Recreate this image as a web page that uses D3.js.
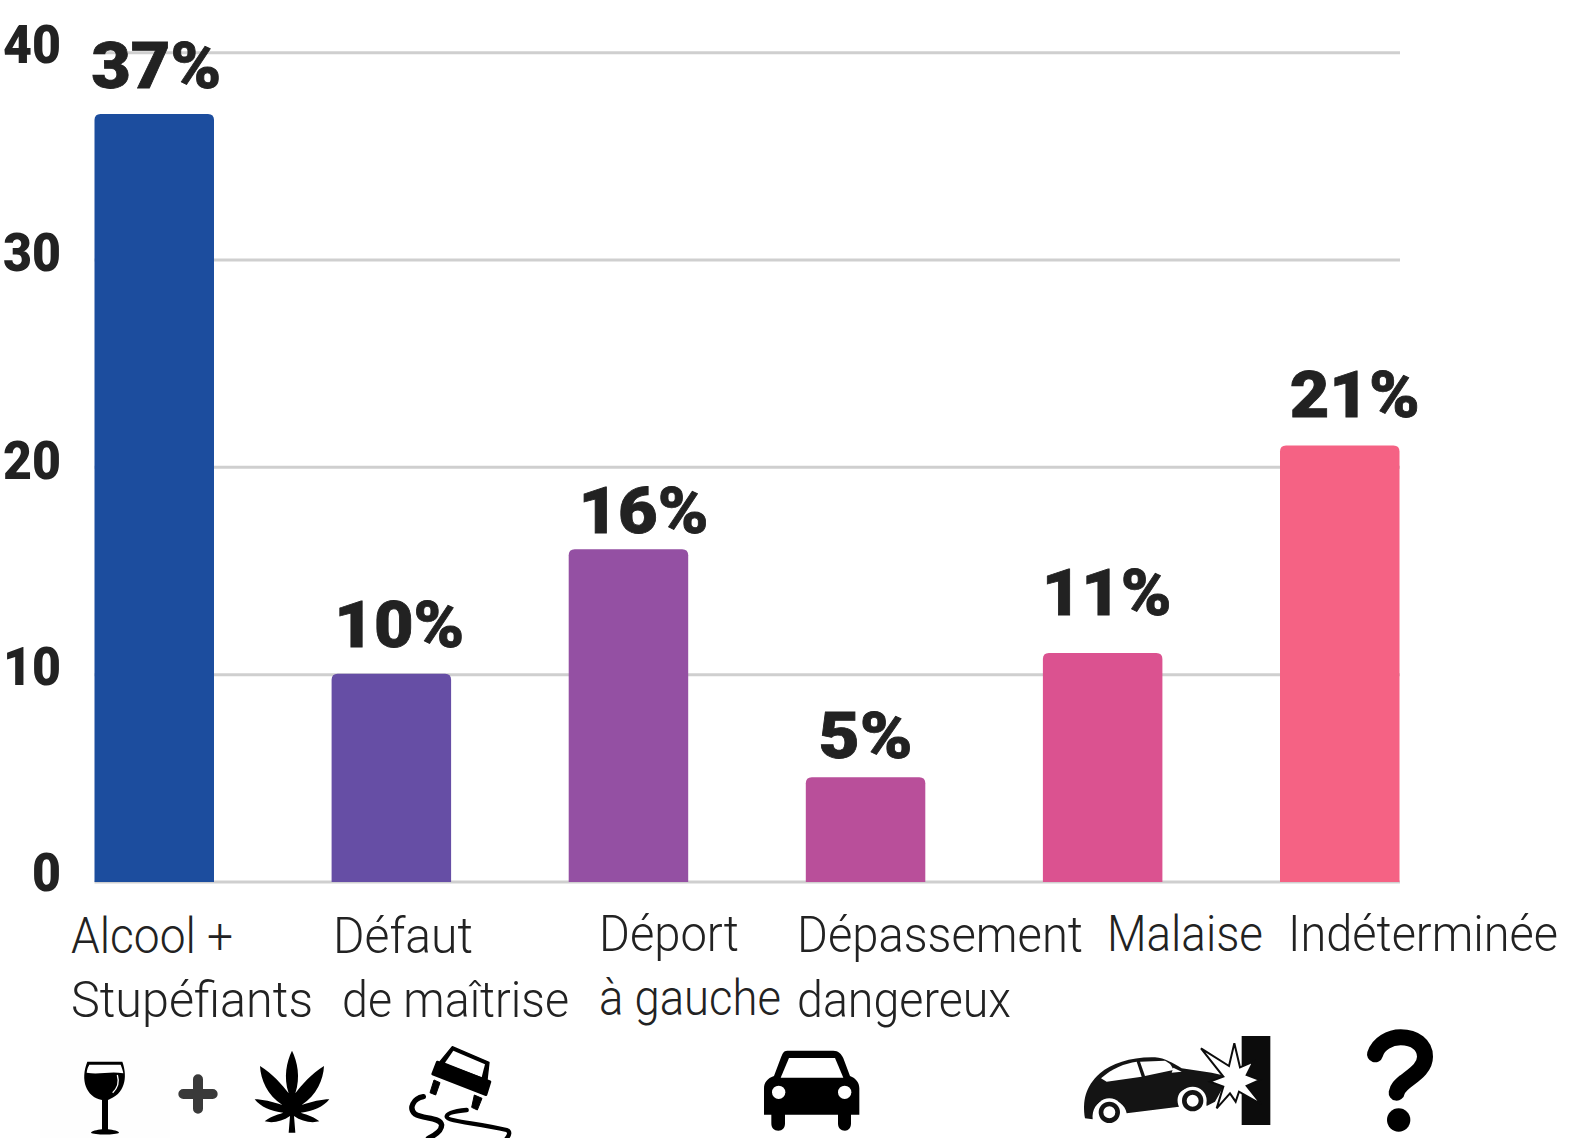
<!DOCTYPE html>
<html>
<head>
<meta charset="utf-8">
<script src="https://cdn.jsdelivr.net/npm/d3@7"></script>
<style>
  html, body { margin: 0; padding: 0; background: #fff; }
  svg { display: block; }
  text { font-family: Roboto, sans-serif; fill: #222; }
</style>
</head>
<body>
<div id="chart"></div>
<script>
var categories = ["Alcool + Stupéfiants", "Défaut de maîtrise", "Déport à gauche", "Dépassement dangereux", "Malaise", "Indéterminée"];
var values = [37, 10, 16, 5, 11, 21];
var yTicks = [0, 10, 20, 30, 40];
var barColors = ["#1c4d9e", "#664ea5", "#9450a3", "#b94f9a", "#db5290", "#f56284"];

var labelLines = [
  ["Alcool +", "Stupéfiants"],
  ["Défaut", "de maîtrise"],
  ["Déport", "à gauche"],
  ["Dépassement", "dangereux"],
  ["Malaise"],
  ["Indéterminée"]
];

// hand placed, the source picture did not line these up with the bars
var labelLayout = [
  [{x: 71, y: 953, w: 162}, {x: 71, y: 1017, w: 242}],
  [{x: 333, y: 953, w: 140}, {x: 342, y: 1017, w: 227}],
  [{x: 599, y: 951, w: 140}, {x: 599, y: 1015, w: 182}],
  [{x: 797, y: 952, w: 286}, {x: 797, y: 1017, w: 214}],
  [{x: 1107, y: 951, w: 156}],
  [{x: 1288, y: 951, w: 270}]
];
var valueLayout = [
  {dx: 2, baseline: 88}, {dx: 8, baseline: 647}, {dx: 15, baseline: 533},
  {dx: 0, baseline: 758}, {dx: 4, baseline: 615}, {dx: 15, baseline: 417}
];

var width = 1595, height = 1138;

var svg = d3.select("#chart")
  .append("svg")
  .attr("width", width)
  .attr("height", height);

var x = d3.scaleBand()
  .domain(categories)
  .range([94.5, 1399.5])
  .paddingInner(0.496)
  .paddingOuter(0);

var y = d3.scaleLinear()
  .domain([0, 40])
  .range([882, 52.7]);

// gridlines
svg.append("g")
  .selectAll("line")
  .data(yTicks)
  .enter().append("line")
    .attr("x1", 94.5)
    .attr("x2", 1400)
    .attr("y1", function(d) { return y(d); })
    .attr("y2", function(d) { return y(d); })
    .style("stroke", "#cfcfcf")
    .style("stroke-width", 3);

// y axis numbers
var yAxis = svg.append("g")
  .attr("transform", "translate(61,0)")
  .call(d3.axisLeft(y).tickValues(yTicks).tickSize(0).tickPadding(0));
yAxis.select(".domain").remove();
yAxis.selectAll("text")
  .attr("dy", null)
  .attr("y", function(d) { return d === 0 ? 8 : (d === 20 ? 11 : 10); })
  .style("font-family", "Roboto, sans-serif")
  .style("font-size", "53px")
  .style("font-weight", 900)
  .style("fill", "#222")
  .attr("textLength", function(d) { return d === 0 ? 29 : 58; })
  .attr("lengthAdjust", "spacingAndGlyphs");

function barPath(d, i) {
  var r = 6, x0 = x(categories[i]), x1 = x0 + x.bandwidth(), top = y(d) - 1, base = y(0);
  return "M" + x0 + "," + base + "V" + (top + r) + "Q" + x0 + "," + top + " " + (x0 + r) + "," + top +
    "H" + (x1 - r) + "Q" + x1 + "," + top + " " + x1 + "," + (top + r) + "V" + base + "Z";
}

svg.append("g")
  .selectAll("path")
  .data(values)
  .enter().append("path")
    .attr("d", barPath)
    .attr("fill", function(d, i) { return barColors[i]; });

// value labels
svg.append("g")
  .selectAll("text")
  .data(values)
  .enter().append("text")
    .attr("x", function(d, i) { return x(categories[i]) + x.bandwidth() / 2 + valueLayout[i].dx; })
    .attr("y", function(d, i) { return valueLayout[i].baseline; })
    .attr("text-anchor", "middle")
    .style("font-size", "65px")
    .style("font-weight", 900)
    .style("stroke", "#222")
    .style("stroke-width", 0.8)
    .attr("textLength", function(d) { return d < 10 ? 94 : 130; })
    .attr("lengthAdjust", "spacingAndGlyphs")
    .text(function(d) { return d + "%"; });

// category labels
labelLines.forEach(function(lines, i) {
  lines.forEach(function(line, j) {
    var pos = labelLayout[i][j];
    svg.append("text")
      .attr("x", pos.x)
      .attr("y", pos.y)
      .attr("textLength", pos.w)
      .attr("lengthAdjust", "spacingAndGlyphs")
      .style("font-size", "50px")
      .style("font-weight", 300)
      .text(line);
  });
});

// icons, traced at 3x from the picture
function icon(px, py) {
  return svg.append("g").attr("transform", "translate(" + px + "," + py + ") scale(" + (1 / 3) + ")");
}

svg.append("rect").attr("x", 40).attr("y", 1030).attr("width", 130).attr("height", 108).attr("fill", "#fefefe");

var glass = icon(60, 1030);
glass.append("path")
  .attr("d", "M82 95H187C200 130 202 185 150 207L144 210V298C160 300 176 303 177 308C170 315 100 315 93 308C95 303 110 300 126 298V210C78 200 60 150 82 95Z");
glass.append("path")
  .attr("d", "M88 104H182C186 115 189 122 190 130C150 122 120 135 80 128C81 118 84 110 88 104Z")
  .attr("fill", "#fff");
glass.append("path")
  .attr("d", "M172 135C178 155 172 175 158 188")
  .attr("fill", "none").attr("stroke", "#fff").attr("stroke-width", 4);
glass.append("path")
  .attr("d", "M414 148V236M370 192H458")
  .attr("fill", "none").attr("stroke", "#3a3a3a").attr("stroke-width", 30).attr("stroke-linecap", "round");
glass.append("path")
  .attr("d", "M696 62C712 95 722 140 706 190C725 165 755 130 792 108C790 150 770 195 725 225C755 215 785 208 808 208C790 230 760 245 722 248C745 255 765 262 778 274C755 280 725 275 702 258L706 308H686L690 258C667 275 637 280 614 274C627 262 647 255 670 248C632 245 602 230 584 208C607 208 637 215 667 225C622 195 602 150 600 108C637 130 667 165 686 190C670 140 680 95 696 62Z");

var skid = icon(390, 1030);
skid.append("path")
  .attr("d", "M187 50L297 97L291 150L150 95Z")
  .attr("stroke", "#000").attr("stroke-width", 4).attr("stroke-linejoin", "round");
skid.append("path")
  .attr("d", "M190 62L285 103L275 142L165 98Z")
  .attr("fill", "#fff");
skid.append("path")
  .attr("d", "M142 96L300 155L288 194L128 132Z")
  .attr("stroke", "#000").attr("stroke-width", 8).attr("stroke-linejoin", "round");
skid.append("path").attr("d", "M132 150L150 158L137 195L120 188Z")
  .attr("stroke", "#000").attr("stroke-width", 3).attr("stroke-linejoin", "round");
skid.append("path").attr("d", "M253 195L276 205L262 240L245 232Z")
  .attr("stroke", "#000").attr("stroke-width", 3).attr("stroke-linejoin", "round");
skid.append("path")
  .attr("d", "M100 200C70 205 55 235 75 252C100 268 150 260 155 285C155 305 130 318 115 325")
  .attr("fill", "none").attr("stroke", "#000").attr("stroke-width", 16).attr("stroke-linecap", "round");
skid.append("path")
  .attr("d", "M230 240C200 243 170 248 170 260C172 275 260 278 350 300C362 304 358 316 350 325")
  .attr("fill", "none").attr("stroke", "#000").attr("stroke-width", 13).attr("stroke-linecap", "round");

var car = icon(750, 1040);
car.append("path")
  .attr("d", "M112 32H250C265 32 275 42 280 55L300 108C318 115 328 128 328 145V224H303V250C303 265 295 272 285 272C272 272 264 265 264 250V224H105V250C105 265 97 272 85 272C72 272 64 265 64 250V224H42V145C42 128 52 115 72 108L92 55C97 42 100 32 112 32Z");
car.append("path").attr("d", "M117 54H255L280 113H92Z").attr("fill", "#fff");
car.append("circle").attr("cx", 86).attr("cy", 157).attr("r", 20).attr("fill", "#fff");
car.append("circle").attr("cx", 284).attr("cy", 157).attr("r", 20).attr("fill", "#fff");

var crash = icon(1075, 1030);
crash.append("rect").attr("x", 500).attr("y", 18).attr("width", 86).attr("height", 267).attr("fill", "#0c0c0c");
crash.append("path")
  .attr("d", "M30 265C22 215 30 170 75 130C110 100 170 80 240 82C270 84 295 100 320 115C360 122 400 125 440 135L445 170L420 215L395 228C390 190 355 165 325 180C305 190 305 215 312 230L155 250C150 220 120 205 90 210C65 215 50 240 53 268Z")
  .attr("fill", "#141414");
crash.append("path").attr("d", "M78 145C110 115 150 100 185 95L200 140L95 155Z").attr("fill", "#fff");
crash.append("path").attr("d", "M195 95L270 92C285 100 290 105 295 120L210 138Z").attr("fill", "#fff");
crash.append("path").attr("d", "M295 113L320 125L290 128Z").attr("fill", "#fff");
[[103, 247], [353, 212]].forEach(function(w) {
  crash.append("circle").attr("cx", w[0]).attr("cy", w[1]).attr("r", 42).attr("fill", "#fff");
  crash.append("circle").attr("cx", w[0]).attr("cy", w[1]).attr("r", 25)
    .attr("fill", "#fff").attr("stroke", "#141414").attr("stroke-width", 14);
});
crash.append("polygon")
  .attr("points", "378,55 462,108 478,40 495,112 535,95 515,135 555,150 515,168 558,222 492,185 482,215 465,190 425,235 445,170 405,155 445,140")
  .attr("fill", "#fff").attr("stroke", "#0c0c0c").attr("stroke-width", 6);

var question = icon(1350, 1020);
question.append("path")
  .attr("d", "M75 103C85 70 120 52 152 52C195 52 225 75 225 110C225 145 190 165 165 185C150 198 142 205 140 218")
  .attr("fill", "none").attr("stroke", "#000").attr("stroke-width", 48).attr("stroke-linecap", "round");
question.append("circle").attr("cx", 146).attr("cy", 300).attr("r", 35);
</script>
</body>
</html>
